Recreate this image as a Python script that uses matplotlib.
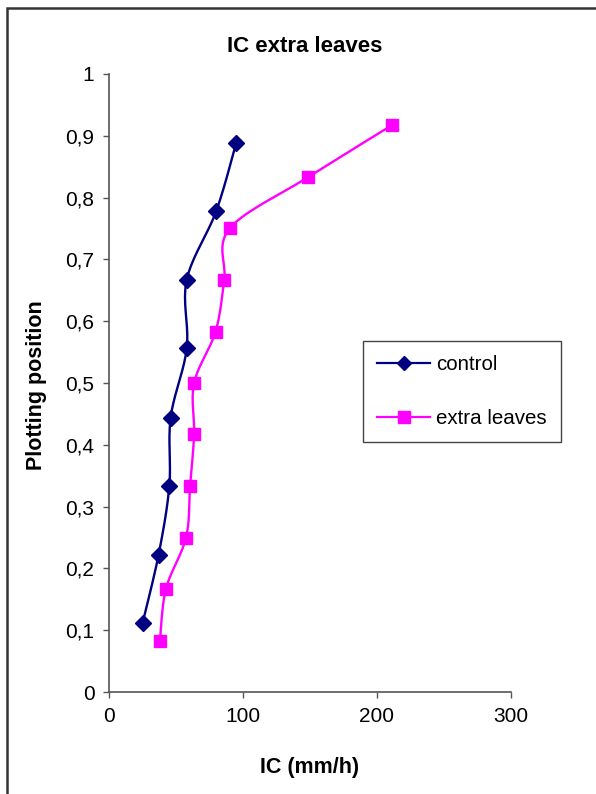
import numpy as np
import matplotlib
matplotlib.use("Agg")
import matplotlib.pyplot as plt
from matplotlib.patches import Rectangle
from matplotlib.ticker import FixedLocator, FuncFormatter

# data
control_ic = [25, 37, 45, 46, 58, 58, 80, 95]
control_pp = [0.111, 0.222, 0.333, 0.444, 0.556, 0.667, 0.778, 0.889]
extra_ic = [38, 42.5, 57.5, 60.5, 63.5, 63.5, 79.5, 86, 90, 148.5, 211]
extra_pp = [0.083, 0.167, 0.25, 0.333, 0.417, 0.5, 0.583, 0.667, 0.75, 0.833, 0.917]

x_ticks = [0, 100, 200, 300]
y_ticks = [0, 0.1, 0.2, 0.3, 0.4, 0.5, 0.6, 0.7, 0.8, 0.9, 1.0]

FONT = "Liberation Sans"


def smooth(xs, ys, steps=20):
    # Excel-like smoothed line: Bezier segments with Catmull-Rom control points
    pts = np.column_stack([xs, ys]).astype(float)
    n = len(pts)
    out = [pts[0]]
    t = np.linspace(0, 1, steps)[1:, None]
    for i in range(n - 1):
        p0 = pts[max(i - 1, 0)]
        p1 = pts[i]
        p2 = pts[i + 1]
        p3 = pts[min(i + 2, n - 1)]
        c1 = p1 + (p2 - p0) / 6
        c2 = p2 - (p3 - p1) / 6
        seg = ((1 - t) ** 3) * p1 + 3 * ((1 - t) ** 2) * t * c1 + 3 * (1 - t) * t ** 2 * c2 + t ** 3 * p2
        out.extend(seg)
    out = np.array(out)
    return out[:, 0], out[:, 1]


W, H = 596, 794
fig = plt.figure(figsize=(W / 100, H / 100), dpi=100)
fig.patch.set_facecolor("white")

# outer chart-area border (runs off the right and bottom edges)
fig.add_artist(Rectangle((7 / W, -0.1), 1.2, 1.1 - 8 / H, transform=fig.transFigure,
                         fill=False, edgecolor="#333333", linewidth=1.8))

ax = fig.add_axes([109 / W, 1 - 692 / H, 402 / W, 618 / H])

for xs, ys, color, marker, size, label in [
    (control_ic, control_pp, "#000080", "D", 8.5, "control"),
    (extra_ic, extra_pp, "#FF00FF", "s", 9, "extra leaves"),
]:
    sx, sy = smooth(xs, ys)
    ax.plot(sx, sy, color=color, linewidth=1.7, clip_on=False)
    ax.plot(xs, ys, linestyle="none", marker=marker, markersize=size, color=color,
            markeredgecolor=color, clip_on=False)
    ax.plot([], [], color=color, linewidth=1.6, marker=marker, markersize=size - 1,
            markeredgecolor=color, label=label)

ax.set_xlim(0, 300)
ax.set_ylim(0, 1)
ax.xaxis.set_major_locator(FixedLocator(x_ticks))
ax.yaxis.set_major_locator(FixedLocator(y_ticks))
ax.yaxis.set_major_formatter(FuncFormatter(lambda v, p: f"{v:g}".replace(".", ",")))
ax.spines["top"].set_visible(False)
ax.spines["right"].set_visible(False)
for side in ("left", "bottom"):
    ax.spines[side].set_color("#555555")
    ax.spines[side].set_linewidth(1.2)
ax.tick_params(direction="out", length=4.5, width=1, color="#555555",
               labelsize=15, pad=6)
for lbl in ax.get_xticklabels() + ax.get_yticklabels():
    lbl.set_fontfamily(FONT)

fig.text(305 / W, 1 - 46 / H, "IC extra leaves", ha="center", va="center",
         fontsize=16, fontweight="bold", family=FONT)
fig.text(310 / W, 1 - 767 / H, "IC (mm/h)", ha="center", va="center",
         fontsize=15.5, fontweight="bold", family=FONT)
fig.text(37 / W, 1 - 385 / H, "Plotting position", ha="center", va="center",
         rotation=90, fontsize=15.5, fontweight="bold", family=FONT)

handles, labels = ax.get_legend_handles_labels()
leg = fig.legend(handles, labels, loc="upper left",
                 bbox_to_anchor=(363 / W, 1 - 341 / H),
                 prop={"family": FONT, "size": 14.8}, frameon=True, fancybox=False,
                 edgecolor="#444444", framealpha=1, handlelength=2.55,
                 labelspacing=1.68, borderpad=0.7, handletextpad=0.3, borderaxespad=0)
leg.get_frame().set_linewidth(1.0)

fig.savefig("out.png", dpi=100)
